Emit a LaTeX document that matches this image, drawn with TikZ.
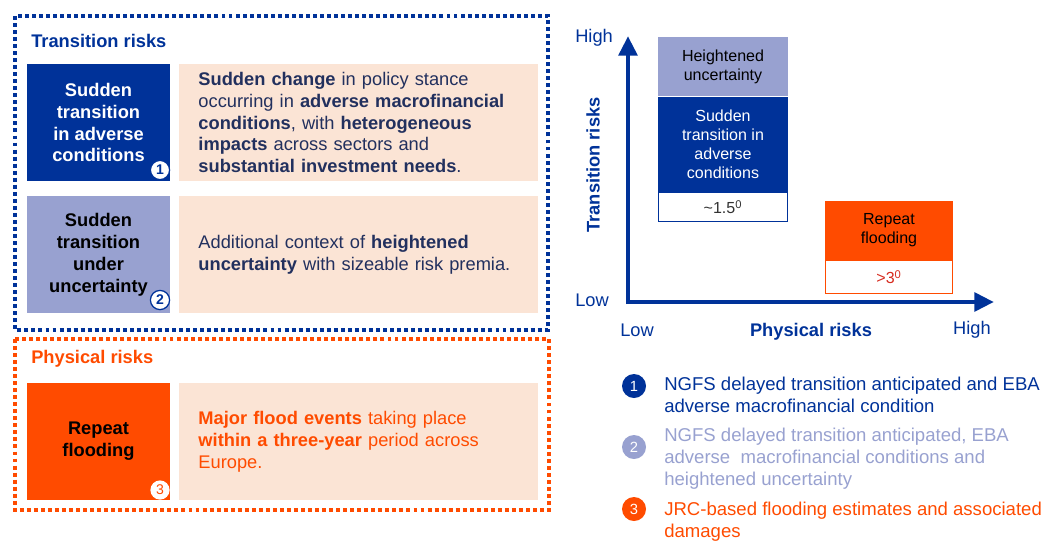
\documentclass[tikz,border=0pt]{standalone}
\usepackage{fontspec}
\setmainfont{Liberation Sans}
\usetikzlibrary{arrows.meta, positioning, calc}

\definecolor{ecbblue}{HTML}{003299}
\definecolor{ecblilac}{HTML}{98A1D0}
\definecolor{ecborange}{HTML}{FF4B00}
\definecolor{peach}{HTML}{FBE4D5}
\definecolor{navytext}{HTML}{22305E}
\definecolor{flamered}{HTML}{D72B1E}

\begin{document}
\begin{tikzpicture}[
                x=0.025cm, y=-0.025cm,
                font=\fontsize{13}{15.6}\selectfont,
                frame/.style={line width=2.8pt, dash pattern=on 2.8pt off 2.2pt},
                title/.style={anchor=west, inner sep=0pt, font=\fontsize{13}{15}\selectfont\bfseries},
                tag/.style={inner sep=0pt, minimum width=3.575cm, minimum height=2.925cm, align=center, font=\fontsize{13}{15.6}\selectfont\bfseries},
                info/.style={fill=peach, inner sep=0pt, minimum width=8.975cm, minimum height=2.925cm, text width=8.0cm, align=left},
                badge/.style={circle, fill=white, inner sep=0pt, minimum size=0.48cm, font=\fontsize{10}{10}\selectfont\bfseries},
                cbox/.style={inner sep=0pt, minimum width=3.25cm, align=center, font=\fontsize{11.4}{13.5}\selectfont},
                axis/.style={ecbblue, line width=3.5pt, -{Triangle[length=14pt, width=13pt]}},
                axlabel/.style={ecbblue, inner sep=0pt, font=\fontsize{13}{15}\selectfont},
                lbadge/.style={circle, fill=#1, text=white, inner sep=0pt, minimum size=0.6cm, font=\fontsize{10.5}{12}\selectfont},
                legend/.style={anchor=west, inner sep=0pt, align=left, font=\fontsize{13.2}{15.6}\selectfont}
            ]
                \useasboundingbox (0,0) rectangle (1044,540);
                % frames
                \draw[frame, ecbblue] (15,16) rectangle (548,330);
                \draw[frame, ecborange] (15,339) rectangle (549,510);
                \node[title, ecbblue] (transtitle) at (31,41) {Transition risks};
                \node[title, ecborange] (phystitle) at (31,359) {Physical risks};
                % left column
                \node[tag, fill=ecbblue, text=white] (tag1) at (98.5,122.5) {Sudden\\transition\\in adverse\\conditions};
                \node[tag, fill=ecblilac, text=black] (tag2) at (98.5,254.5) {Sudden\\transition\\under\\uncertainty};
                \node[tag, fill=ecborange, text=black] (tag3) at (98.5,441.5) {Repeat\\flooding};
                \node[info, text=navytext] (info1) at (358.5,122.5) {\textbf{Sudden change} in policy stance\\occurring in \textbf{adverse macrofinancial}\\\textbf{conditions}, with \textbf{heterogeneous}\\\textbf{impacts} across sectors and\\\textbf{substantial investment needs}.};
                \node[info, text=navytext] (info2) at (358.5,254.5) {Additional context of \textbf{heightened}\\\textbf{uncertainty} with sizeable risk premia.};
                \node[info, text=ecborange] (info3) at (358.5,441.5) {\textbf{Major flood events} taking place\\\textbf{within a three-year} period across\\Europe.};
                \node[badge, draw=ecbblue, line width=0.9pt, text=ecbblue] (num1) at (160,170) {1};
                \node[badge, draw=ecbblue, line width=0.9pt, text=ecbblue] (num2) at (160,300) {2};
                \node[badge, text=ecborange, font=\fontsize{10}{10}\selectfont] (num3) at (160,490) {3};
                % chart
                \coordinate (origin) at (628,302);
                \coordinate (ytip) at (628,36);
                \coordinate (xtip) at (994,302);
                \draw[axis] ($(origin)+(0,2)$) -- (ytip);
                \draw[axis] ($(origin)+(-2,0)$) -- (xtip);
                \node[axlabel, anchor=west] (yhigh) at (575,38) {High};
                \node[axlabel, anchor=west] (ylow) at (575,300) {Low};
                \node[axlabel, anchor=west] (xlow) at (620,330) {Low};
                \node[axlabel, anchor=east] (xhigh) at (991,330) {High};
                \node[axlabel, font=\fontsize{13}{15}\selectfont\bfseries] (xname) at (811,332) {Physical risks};
                \node[axlabel, rotate=90, font=\fontsize{13}{15}\selectfont\bfseries] (yname) at (593,165) {Transition risks};
                \node[cbox, fill=ecblilac, minimum height=1.475cm] (heightened) at (723,66.5) {Heightened\\uncertainty};
                \node[cbox, fill=ecbblue, text=white, minimum height=2.375cm, below=0pt of heightened] (sudden) {Sudden\\transition in\\adverse\\conditions};
                \node[cbox, fill=white, draw=ecbblue, line width=0.8pt, text=black!80, minimum width=3.23cm, minimum height=0.73cm, below=0pt of sudden] (temp15) {\textasciitilde1.5\textsuperscript{0}};
                \node[cbox, fill=ecborange, minimum width=3.2cm, minimum height=1.475cm] (repeat) at (889,230.5) {Repeat\\flooding};
                \node[cbox, fill=white, draw=ecborange, line width=0.8pt, text=flamered, minimum width=3.18cm, minimum height=0.82cm, below=0pt of repeat] (temp3) {\textgreater3\textsuperscript{0}};
                % legend
                \node[lbadge=ecbblue] (leg1) at (634,386) {1};
                \node[lbadge=ecblilac] (leg2) at (634,447) {2};
                \node[lbadge=ecborange] (leg3) at (634,509) {3};
                \node[legend, text=ecbblue] (legtext1) at (664,395) {NGFS delayed transition anticipated and EBA\\adverse macrofinancial condition};
                \node[legend, text=ecblilac] (legtext2) at (664,459) {NGFS delayed transition anticipated, EBA\\adverse\ \ macrofinancial conditions and\\heightened uncertainty};
                \node[legend, text=ecborange] (legtext3) at (664,522) {JRC-based flooding estimates and associated\\damages};
            \end{tikzpicture}
\end{document}
